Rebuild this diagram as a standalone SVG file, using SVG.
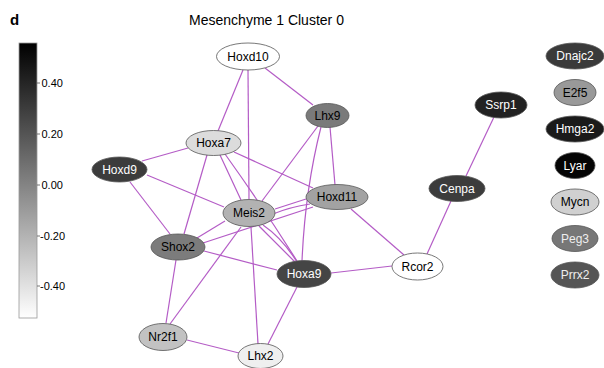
<svg xmlns="http://www.w3.org/2000/svg" width="604" height="368" viewBox="0 0 604 368">
<defs>
<linearGradient id="cb" x1="0" y1="0" x2="0" y2="1">
<stop offset="0" stop-color="#000"/>
<stop offset="1" stop-color="#fff"/>
</linearGradient>
<style>
text{font-family:"Liberation Sans",Arial,sans-serif;}
.n ellipse{stroke:#555;stroke-width:0.8;}
.n text{font-size:12px;text-anchor:middle;}
.w{fill:#fff;}
.k{fill:#000;}
#edges path{stroke:#b45cc6;stroke-width:1.2;fill:none;}
.tick{stroke:#555;stroke-width:0.8;}
.tl{font-size:11px;fill:#000;}
</style>
</defs>
<rect width="604" height="368" fill="#fff"/>
<text x="10" y="25" font-size="15" font-weight="bold">d</text>
<text x="266.5" y="25" font-size="14" text-anchor="middle">Mesenchyme 1 Cluster 0</text>
<g id="colorbar">
<rect x="19" y="43" width="18" height="275" fill="url(#cb)" stroke="#999" stroke-width="0.8"/>
<line class="tick" x1="37" y1="83" x2="40" y2="83"/>
<line class="tick" x1="37" y1="134" x2="40" y2="134"/>
<line class="tick" x1="37" y1="185" x2="40" y2="185"/>
<line class="tick" x1="37" y1="236" x2="40" y2="236"/>
<line class="tick" x1="37" y1="286" x2="40" y2="286"/>
<text class="tl" x="41.5" y="87">0.40</text>
<text class="tl" x="41.5" y="138">0.20</text>
<text class="tl" x="41.5" y="189">0.00</text>
<text class="tl" x="40" y="240">-0.20</text>
<text class="tl" x="40" y="290">-0.40</text>
</g>
<g id="edges">
<path d="M243,70 L218,131"/>
<path d="M248,70 L249,199"/>
<path d="M265,68 L313,105"/>
<path d="M330,127 L335,185"/>
<path d="M318,126 L262,201"/>
<path d="M321,127 Q305,190 302,261"/>
<path d="M188,148 L142,161"/>
<path d="M207,155 L184,234"/>
<path d="M220,155 L241,200"/>
<path d="M225,154 Q265,210 297,261"/>
<path d="M234,152 L313,188"/>
<path d="M147,175 L224,207"/>
<path d="M130,182 L170,234"/>
<path d="M275,209 L306,199"/>
<path d="M273,214 Q290,207 310,204"/>
<path d="M203,243 L313,207"/>
<path d="M351,209 L404,255"/>
<path d="M225,221 L197,238"/>
<path d="M259,226 L295,262"/>
<path d="M263,225 Q282,238 297,262"/>
<path d="M241,227 L170,324"/>
<path d="M251,227 L258,344"/>
<path d="M204,251 L277,270"/>
<path d="M176,260 L166,323"/>
<path d="M331,273 L392,266"/>
<path d="M297,287 L268,344"/>
<path d="M187,340 L239,353"/>
<path d="M427,254 L451,201"/>
<path d="M466,176 L494,117"/>
</g>
<g id="Hoxd10" class="n"><ellipse cx="248" cy="56.5" rx="31.5" ry="13.5" fill="#fff"/><text x="248" y="60.5" class="k">Hoxd10</text></g>
<g id="Lhx9" class="n"><ellipse cx="327.5" cy="115.5" rx="21.5" ry="12" fill="#7a7a7a"/><text x="327.5" y="119.5" class="k">Lhx9</text></g>
<g id="Hoxa7" class="n"><ellipse cx="213.5" cy="143" rx="27.5" ry="12.5" fill="#dcdcdc"/><text x="213.5" y="147" class="k">Hoxa7</text></g>
<g id="Hoxd9" class="n"><ellipse cx="119.5" cy="169.5" rx="27.5" ry="12.5" fill="#3c3c3c"/><text x="119.5" y="173.5" class="w">Hoxd9</text></g>
<g id="Hoxd11" class="n"><ellipse cx="337" cy="197" rx="31" ry="12.5" fill="#a2a2a2"/><text x="337" y="201" class="k">Hoxd11</text></g>
<g id="Meis2" class="n"><ellipse cx="249" cy="213" rx="26" ry="13.5" fill="#b2b2b2"/><text x="249" y="217" class="k">Meis2</text></g>
<g id="Shox2" class="n"><ellipse cx="178" cy="247" rx="27" ry="13" fill="#7c7c7c"/><text x="178" y="251" class="k">Shox2</text></g>
<g id="Hoxa9" class="n"><ellipse cx="304" cy="274" rx="27" ry="13.5" fill="#454545"/><text x="304" y="278" class="w">Hoxa9</text></g>
<g id="Rcor2" class="n"><ellipse cx="417.5" cy="266.5" rx="25.5" ry="13.5" fill="#fff"/><text x="417.5" y="270.5" class="k">Rcor2</text></g>
<g id="Nr2f1" class="n"><ellipse cx="163" cy="337" rx="24" ry="13.5" fill="#c2c2c2"/><text x="163" y="341" class="k">Nr2f1</text></g>
<g id="Lhx2" class="n"><ellipse cx="260.5" cy="356" rx="22.5" ry="12.5" fill="#efefef"/><text x="260.5" y="360" class="k">Lhx2</text></g>
<g id="Cenpa" class="n"><ellipse cx="457" cy="188.5" rx="28" ry="13" fill="#3c3c3c"/><text x="457" y="192.5" class="w">Cenpa</text></g>
<g id="Ssrp1" class="n"><ellipse cx="501" cy="105" rx="26" ry="13" fill="#222"/><text x="501" y="109" class="w">Ssrp1</text></g>
<g id="Dnajc2" class="n"><ellipse cx="575" cy="56" rx="29" ry="13" fill="#3a3a3a"/><text x="575" y="60" class="w">Dnajc2</text></g>
<g id="E2f5" class="n"><ellipse cx="575" cy="92.5" rx="21" ry="13" fill="#999"/><text x="575" y="96.5" class="k">E2f5</text></g>
<g id="Hmga2" class="n"><ellipse cx="575" cy="129" rx="29" ry="13" fill="#1a1a1a"/><text x="575" y="133" class="w">Hmga2</text></g>
<g id="Lyar" class="n"><ellipse cx="575" cy="165.5" rx="20" ry="13" fill="#050505"/><text x="575" y="169.5" class="w">Lyar</text></g>
<g id="Mycn" class="n"><ellipse cx="575" cy="202" rx="24" ry="13" fill="#d0d0d0"/><text x="575" y="206" class="k">Mycn</text></g>
<g id="Peg3" class="n"><ellipse cx="575" cy="238.5" rx="23" ry="13" fill="#777"/><text x="575" y="242.5" fill="#eee">Peg3</text></g>
<g id="Prrx2" class="n"><ellipse cx="575" cy="275" rx="24" ry="13" fill="#555"/><text x="575" y="279" fill="#eee">Prrx2</text></g>
</svg>
